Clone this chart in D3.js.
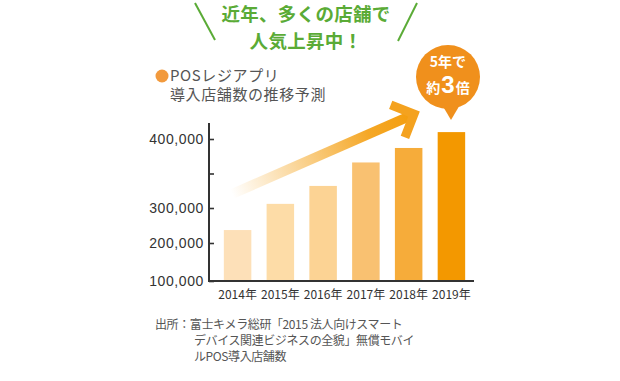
<!DOCTYPE html>
<html><head><meta charset="utf-8">
<script src="https://cdn.jsdelivr.net/npm/d3@7"></script>
<style>
html,body{margin:0;padding:0;background:#fff;}
svg{display:block;font-family:"Noto Sans CJK JP","Noto Sans",sans-serif;}
</style></head>
<body>
<svg id="c" width="620" height="381"></svg>
<script>
const years = ["2014年","2015年","2016年","2017年","2018年","2019年"];
const values = [237000, 306000, 332000, 366000, 387000, 410000];
const barColors = ["#fde0b8","#fddca7","#fcd394","#f9c171","#f6ac3a","#f39800"];
const tickValues = [100000, 200000, 300000, 350000, 400000];
const tickLabels = ["100,000","200,000","300,000","","400,000"];
const titleLines = ["近年、多くの店舗で","人気上昇中！"];
const legendLines = ["POSレジアプリ","導入店舗数の推移予測"];
const sourceLines = ["出所：富士キメラ総研「2015 法人向けスマート","デバイス関連ビジネスの全貌」無償モバイ","ルPOS導入店舗数"];

const svg = d3.select("#c");
const green = "#5aab36", orange = "#f39800", grey = "#555";

const x = d3.scaleBand().domain(years).range([211, 478]).paddingInner(0.357).paddingOuter(0.3);
const y = d3.scaleLinear().domain([100000,200000,300000,400000]).range([281,243,208,139]);

// title
svg.selectAll("text.title").data(titleLines).join("text")
  .attr("class","title").attr("x",306).attr("y",(d,i)=>21+i*27)
  .attr("text-anchor","middle").attr("fill",green).attr("font-size",18.5).attr("font-weight",700)
  .attr("letter-spacing",0.3).text(d=>d);
svg.append("line").attr("x1",195).attr("y1",3).attr("x2",215).attr("y2",40).attr("stroke",green).attr("stroke-width",2);
svg.append("line").attr("x1",417).attr("y1",3).attr("x2",398).attr("y2",41).attr("stroke",green).attr("stroke-width",2);

// legend
svg.append("circle").attr("cx",162).attr("cy",76).attr("r",6.5).attr("fill","#f29a3d");
svg.selectAll("text.leg").data(legendLines).join("text")
  .attr("class","leg").attr("x",170).attr("y",(d,i)=>81+i*19)
  .attr("fill",grey).attr("font-size",15).attr("letter-spacing",0.6).text(d=>d);

// arrow
const defs = svg.append("defs");
const a0 = [232,194], a1 = [414,114];
const g = defs.append("linearGradient").attr("id","ag").attr("gradientUnits","userSpaceOnUse")
  .attr("x1",a0[0]).attr("y1",a0[1]).attr("x2",a1[0]).attr("y2",a1[1]);
g.append("stop").attr("offset","0").attr("stop-color",orange).attr("stop-opacity",0);
g.append("stop").attr("offset","0.75").attr("stop-color",orange).attr("stop-opacity",0.85);
g.append("stop").attr("offset","1").attr("stop-color",orange).attr("stop-opacity",0.95);
svg.append("line").attr("x1",a0[0]).attr("y1",a0[1]).attr("x2",a1[0]-4).attr("y2",a1[1]+2)
  .attr("stroke","url(#ag)").attr("stroke-width",10);
{
  const dx=a1[0]-a0[0], dy=a1[1]-a0[1], L=Math.hypot(dx,dy);
  const bx=-dx/L, by=-dy/L, ang=Math.PI/4, len=25;
  const r=(t)=>[a1[0]+len*(bx*Math.cos(t)-by*Math.sin(t)), a1[1]+len*(bx*Math.sin(t)+by*Math.cos(t))];
  const p1=r(ang), p2=r(-ang);
  svg.append("path").attr("d",`M${p1[0]},${p1[1]}L${a1[0]},${a1[1]}L${p2[0]},${p2[1]}`)
    .attr("fill","none").attr("stroke","#f4a21f").attr("stroke-width",9).attr("stroke-linejoin","miter");
}

// bars
svg.selectAll("rect.bar").data(values).join("rect").attr("class","bar")
  .attr("x",(d,i)=>x(years[i])).attr("width",x.bandwidth())
  .attr("y",d=>y(d)).attr("height",d=>y(100000)-y(d))
  .attr("fill",(d,i)=>barColors[i]);

// axes
const yAxis = d3.axisLeft(y).tickValues(tickValues).tickFormat((d,i)=>tickLabels[i])
  .tickSizeInner(-5).tickSizeOuter(0).tickPadding(5);
const ya = svg.append("g").attr("transform","translate(209,0)").call(yAxis);
ya.select(".domain").remove();
ya.selectAll(".tick line").attr("stroke","#333").attr("stroke-width",1.6);
ya.selectAll(".tick text").attr("fill","#333").attr("font-size",14).attr("font-family","Liberation Sans, Arial, sans-serif").attr("letter-spacing",0.6);

const xAxis = d3.axisBottom(x).tickSize(0).tickPadding(9);
const xa = svg.append("g").attr("transform",`translate(0,${y(100000)})`).call(xAxis);
xa.select(".domain").remove();
xa.selectAll(".tick text").attr("fill","#333").attr("font-size",12).attr("font-family","Noto Sans CJK JP, sans-serif");

svg.append("line").attr("x1",209).attr("x2",209).attr("y1",123).attr("y2",y(100000)+1).attr("stroke","#333").attr("stroke-width",2);
svg.append("line").attr("x1",208).attr("x2",474).attr("y1",y(100000)).attr("y2",y(100000)).attr("stroke","#333").attr("stroke-width",2);

// bubble
svg.append("path").attr("d","M441,103 L451,120 L461,103 Z").attr("fill","#f0901c");
svg.append("circle").attr("cx",448).attr("cy",77).attr("r",32).attr("fill","#f0901c");
svg.append("text").attr("x",448).attr("y",67).attr("text-anchor","middle").attr("fill","#fff")
  .attr("font-size",14).attr("font-weight",700).text("5年で");
const t2 = svg.append("text").attr("x",448).attr("y",93).attr("text-anchor","middle").attr("fill","#fff").attr("font-weight",700);
t2.append("tspan").attr("font-size",14).text("約");
t2.append("tspan").attr("font-size",24).attr("font-family","Liberation Sans, Arial, sans-serif").attr("dx",1).text("3");
t2.append("tspan").attr("font-size",14).attr("dx",1).text("倍");

// source
svg.selectAll("text.src").data(sourceLines).join("text").attr("class","src")
  .attr("x",(d,i)=>i===0?155:194).attr("y",(d,i)=>329+i*16)
  .attr("fill",grey).attr("font-size",12).attr("letter-spacing",-0.4).text(d=>d);
</script>
</body></html>
